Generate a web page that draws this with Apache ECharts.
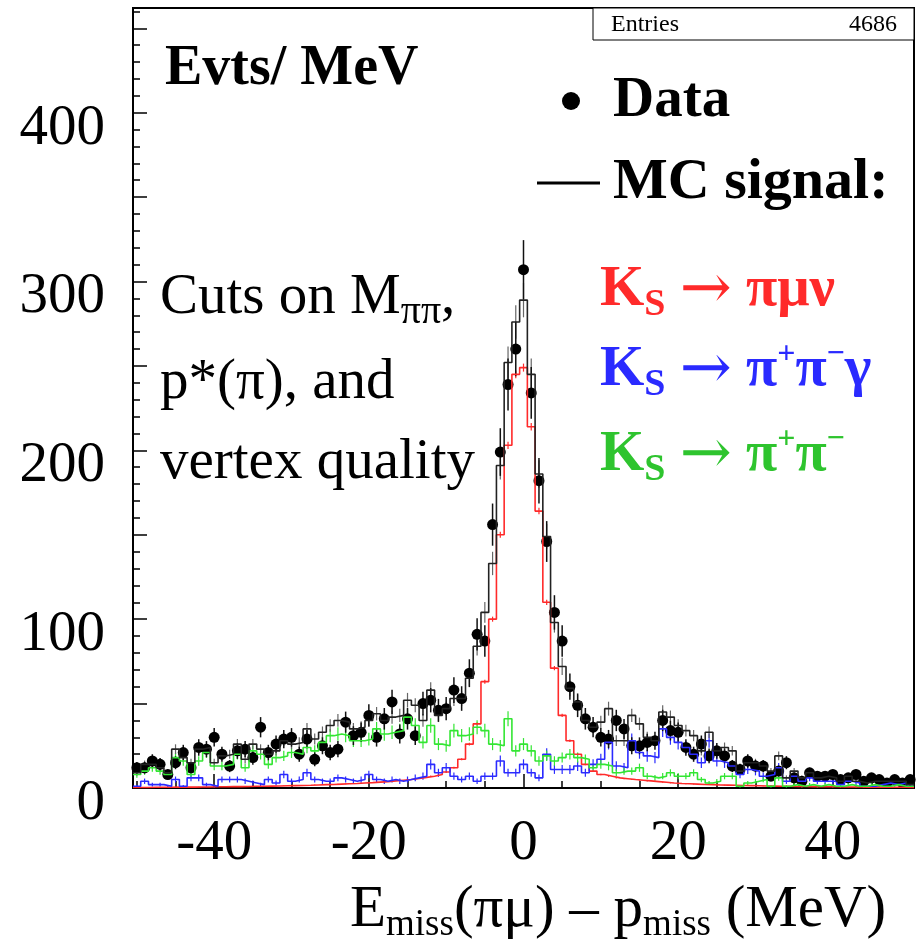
<!DOCTYPE html>
<html>
<head>
<meta charset="utf-8">
<title>Emiss - pmiss</title>
<script src="https://cdn.jsdelivr.net/npm/echarts@6.0.0/dist/echarts.min.js"></script>
<style>
  html, body { margin: 0; padding: 0; background: #fff; }
  #chart { width: 916px; height: 945px; }
</style>
</head>
<body>
<div id="chart"></div>
<script>
// 1 MeV bins, centred on integers
const binCentres = [
  -50, -49, -48, -47, -46, -45, -44, -43, -42, -41,
  -40, -39, -38, -37, -36, -35, -34, -33, -32, -31,
  -30, -29, -28, -27, -26, -25, -24, -23, -22, -21,
  -20, -19, -18, -17, -16, -15, -14, -13, -12, -11,
  -10, -9, -8, -7, -6, -5, -4, -3, -2, -1,
  0,
  1, 2, 3, 4, 5, 6, 7, 8, 9, 10,
  11, 12, 13, 14, 15, 16, 17, 18, 19, 20,
  21, 22, 23, 24, 25, 26, 27, 28, 29, 30,
  31, 32, 33, 34, 35, 36, 37, 38, 39, 40,
  41, 42, 43, 44, 45, 46, 47, 48, 49, 50
];

// tick labels
const xLabels = [-40, -20, 0, 20, 40];
const xMinorTicks = [-50, -45, -40, -35, -30, -25, -20, -15, -10, -5, 0, 5, 10, 15, 20, 25, 30, 35, 40, 45, 50];
const yLabels = [0, 100, 200, 300, 400];
const yMajorTicks = [0, 50, 100, 150, 200, 250, 300, 350, 400, 450];
const yMinorTicks = [0, 10, 20, 30, 40, 50, 60, 70, 80, 90, 100, 110, 120, 130, 140, 150, 160, 170, 180, 190,
  200, 210, 220, 230, 240, 250, 260, 270, 280, 290, 300, 310, 320, 330, 340, 350, 360, 370, 380, 390,
  400, 410, 420, 430, 440, 450, 460];

// data, events per MeV
const dataCounts = [
  12, 12, 16, 14, 8, 15, 21, 12, 24, 23,
  30, 20, 13, 22, 23, 18, 36, 21, 26, 29,
  30, 20, 29, 17, 25, 21, 23, 39, 31, 33,
  43, 30, 41, 51, 32, 41, 31, 50, 52, 46,
  47, 58, 53, 68, 91, 87, 156, 199, 239, 260,
  307,
  234, 182, 146, 104, 87, 60, 49, 41, 36, 30,
  29, 40, 35, 25, 25, 27, 28, 40, 34, 33,
  24, 20, 26, 19, 22, 19, 13, 11, 16, 13,
  13, 7, 10, 15, 6, 4, 9, 7, 7, 8,
  5, 6, 8, 4, 6, 5, 3, 5, 3, 5
];

// MC signal total (black)
const mcTotal = [
  9, 14, 14, 12, 9, 23, 18, 15, 23, 24,
  15, 19, 20, 26, 17, 26, 23, 20, 22, 28,
  26, 27, 35, 29, 33, 37, 40, 39, 35, 36,
  40, 44, 40, 42, 43, 52, 49, 40, 58, 43,
  47, 53, 53, 65, 84, 104, 133, 191, 252, 276,
  289,
  245, 186, 149, 98, 72, 59, 51, 40, 36, 39,
  47, 28, 28, 43, 38, 30, 28, 45, 42, 37,
  34, 31, 22, 33, 22, 24, 22, 10, 15, 15,
  13, 10, 19, 6, 10, 6, 9, 6, 7, 6,
  4, 7, 4, 3, 4, 4, 4, 4, 4, 2
];

// Ks -> pi mu nu (red)
const mcPiMuNu = [
  0.3, 0.3, 0.4, 0.4, 0.4, 0.5, 0.5, 0.5, 0.6, 0.6,
  0.7, 0.7, 0.8, 0.8, 0.9, 1.0, 1.0, 1.1, 1.2, 1.3,
  1.4, 1.5, 1.6, 1.8, 2.0, 2.1, 2.3, 2.5, 2.7, 3.0,
  3.2, 3.5, 3.8, 4.2, 4.6, 5.0, 5.6, 6.3, 7.0, 8.0,
  9.5, 12, 17, 26, 38, 63, 100, 150, 203, 245,
  249,
  214, 164, 110, 71, 43, 28, 20, 14, 10, 8,
  7, 6, 5.5, 5, 4.6, 4.2, 3.8, 3.4, 3.0, 2.7,
  2.5, 2.3, 2.1, 2.0, 1.8, 1.7, 1.6, 1.5, 1.4, 1.3,
  1.2, 1.1, 1.0, 1.0, 0.9, 0.9, 0.8, 0.8, 0.7, 0.7,
  0.6, 0.6, 0.6, 0.5, 0.5, 0.5, 0.4, 0.4, 0.4, 0.3
];

// Ks -> pi+ pi- gamma (blue)
const mcPiPiGamma = [
  1, 4, 2, 2, 1, 5, 1, 6, 6, 2,
  1, 5, 5, 5, 4, 3, 2, 5, 3, 8,
  4, 5, 9, 5, 4, 4, 6, 5, 4, 5,
  8, 5, 4, 5, 4, 5, 6, 7, 14, 9,
  12, 7, 5, 7, 4, 7, 7, 16, 9, 9,
  14,
  9, 6, 20, 11, 11, 11, 13, 9, 14, 17,
  27, 13, 12, 28, 21, 19, 18, 35, 30, 27,
  24, 20, 15, 28, 16, 15, 13, 8, 11, 10,
  7, 8, 12, 4, 7, 4, 6, 4, 4, 4,
  2, 4, 3, 1, 1, 2, 3, 2, 3, 1
];

// Ks -> pi+ pi- (green)
const mcPiPi = [
  8, 10, 12, 10, 8, 18, 16, 8, 16, 21,
  13, 13, 14, 20, 12, 22, 20, 14, 18, 19,
  21, 20, 24, 22, 27, 31, 32, 31, 28, 28,
  29, 35, 32, 33, 34, 42, 37, 27, 37, 26,
  25, 34, 31, 32, 36, 34, 26, 25, 41, 22,
  26,
  22, 16, 19, 16, 18, 20, 18, 17, 12, 14,
  13, 9, 10, 10, 12, 7, 6, 7, 9, 7,
  7, 9, 5, 3, 4, 7, 7, 1, 3, 4,
  5, 1, 6, 1, 2, 1, 2, 1, 2, 1,
  1, 2, 1, 1, 2, 1, 1, 2, 1, 1
];

const SERIF = '"Liberation Serif", "DejaVu Serif", serif';
const ARROW_FONT = '"DejaVu Serif", serif';
const RED = '#ff2a2a', BLUE = '#2a2aff', GREEN = '#33e633';

// histogram outline: each bin drawn across its full width
const stepPoints = vals => {
  const pts = [];
  binCentres.forEach((c, i) => { pts.push([c - 0.5, vals[i]], [c + 0.5, vals[i]]); });
  return pts;
};

const errPoints = (vals, scale) =>
  binCentres.map((c, i) => [c, vals[i] - scale * Math.sqrt(vals[i]), vals[i] + scale * Math.sqrt(vals[i])]);

const errSeries = (vals, scale, color, width) => ({
  type: 'custom',
  clip: true,
  silent: true,
  data: errPoints(vals, scale),
  renderItem: (params, api) => {
    const a = api.coord([api.value(0), api.value(1)]);
    const b = api.coord([api.value(0), api.value(2)]);
    return { type: 'line', shape: { x1: a[0], y1: a[1], x2: b[0], y2: b[1] },
      style: { stroke: color, lineWidth: width } };
  }
});

const histSeries = (vals, color, width) => ({
  type: 'line',
  data: stepPoints(vals),
  symbol: 'none',
  silent: true,
  lineStyle: { color: color, width: width },
  clip: true
});

// text built from pieces: [text, size, dy, weight, family]
const measure = document.createElement('canvas').getContext('2d');
function textRun(x, y, parts, color) {
  const out = [];
  let cx = x;
  for (const [t, size, dy, weight, family] of parts) {
    const font = weight + ' ' + size + 'px ' + (family || SERIF);
    measure.font = font;
    out.push({ type: 'text', x: cx, y: y + dy, silent: true,
      style: { text: t, font: font, fill: color, textAlign: 'left', textVerticalAlign: 'middle' } });
    cx += measure.measureText(t).width;
  }
  return out;
}

const arrow = [[' ', 57, 0, 'bold'], ['\u2192', 62, 2, 'normal', ARROW_FONT], [' ', 57, 0, 'bold']];

const graphics = [
  // stats box
  { type: 'rect', shape: { x: 593, y: 8, width: 321, height: 32 }, style: { fill: '#fff', stroke: '#000', lineWidth: 1 } },
  { type: 'text', x: 611, y: 25, style: { text: 'Entries', font: '24px ' + SERIF, fill: '#000', textVerticalAlign: 'middle' } },
  { type: 'text', x: 897, y: 25, style: { text: '4686', font: '24px ' + SERIF, fill: '#000', textAlign: 'right', textVerticalAlign: 'middle' } },
  // legend markers
  { type: 'circle', shape: { cx: 571, cy: 101, r: 9 }, style: { fill: '#000' } },
  { type: 'line', shape: { x1: 537, y1: 183, x2: 600, y2: 183 }, style: { stroke: '#000', lineWidth: 3 } },
  ...textRun(165, 70, [['Evts/ MeV', 56, 0, 'bold']], '#000'),
  ...textRun(613, 101, [['Data', 57, 0, 'bold']], '#000'),
  ...textRun(613, 183, [['MC signal:', 58, 0, 'bold']], '#000'),
  ...textRun(600, 290, [['K', 57, 0, 'bold'], ['S', 38, 15, 'bold'], ...arrow, ['\u03c0\u03bc\u03bd', 57, 0, 'bold']], RED),
  ...textRun(600, 370, [['K', 57, 0, 'bold'], ['S', 38, 15, 'bold'], ...arrow, ['\u03c0', 57, 0, 'bold'], ['+', 32, -15, 'bold'],
    ['\u03c0', 57, 0, 'bold'], ['\u2212', 32, -15, 'bold'], ['\u03b3', 57, 0, 'bold']], BLUE),
  ...textRun(600, 455, [['K', 57, 0, 'bold'], ['S', 38, 15, 'bold'], ...arrow, ['\u03c0', 57, 0, 'bold'], ['+', 32, -15, 'bold'],
    ['\u03c0', 57, 0, 'bold'], ['\u2212', 32, -15, 'bold']], '#2ec42e'),
  ...textRun(160, 298, [['Cuts on M', 57, 0, 'normal'], ['\u03c0\u03c0', 40, 14, 'normal'], [',', 57, 0, 'normal']], '#000'),
  ...textRun(160, 383, [['p*(\u03c0), and', 57, 0, 'normal']], '#000'),
  ...textRun(160, 463, [['vertex quality', 57, 0, 'normal']], '#000'),
  ...textRun(350, 910, [['E', 59, 0, 'normal'], ['miss', 37, 15, 'normal'], ['(\u03c0\u03bc) \u2013 p', 59, 0, 'normal'],
    ['miss', 37, 15, 'normal'], [' (MeV)', 59, 0, 'normal']], '#000')
];

const chart = echarts.init(document.getElementById('chart'));
chart.setOption({
  animation: false,
  backgroundColor: '#fff',
  grid: { left: 133, top: 8, width: 781, height: 780, show: true, borderColor: '#000', borderWidth: 2, backgroundColor: 'transparent' },
  xAxis: [
    {
      type: 'value', min: -50.5, max: 50.5, position: 'bottom',
      axisLine: { show: false, onZero: false },
      splitLine: { show: false },
      axisTick: { inside: true, length: 14, customValues: xLabels, lineStyle: { color: '#000', width: 1.5 } },
      axisLabel: { customValues: xLabels, fontSize: 57, fontFamily: SERIF, color: '#000', margin: 28 }
    },
    {
      type: 'value', min: -50.5, max: 50.5, position: 'bottom',
      axisLine: { show: false, onZero: false }, splitLine: { show: false }, axisLabel: { show: false },
      axisTick: { inside: true, length: 7, customValues: xMinorTicks, lineStyle: { color: '#000', width: 1.5 } }
    }
  ],
  yAxis: [
    {
      type: 'value', min: 0, max: 462, position: 'left',
      axisLine: { show: false, onZero: false },
      splitLine: { show: false },
      axisTick: { inside: true, length: 14, customValues: yMajorTicks, lineStyle: { color: '#000', width: 1.5 } },
      axisLabel: {
        customValues: yLabels, margin: 28,
        formatter: v => '{n|' + v + '}',
        rich: { n: { fontSize: 57, fontFamily: SERIF, color: '#000', padding: [32, 0, 0, 0] } }
      }
    },
    {
      type: 'value', min: 0, max: 462, position: 'left',
      axisLine: { show: false, onZero: false }, splitLine: { show: false }, axisLabel: { show: false },
      axisTick: { inside: true, length: 7, customValues: yMinorTicks, lineStyle: { color: '#000', width: 1.5 } }
    }
  ],
  series: [
    histSeries(mcPiMuNu, RED, 1.6),
    errSeries(mcPiMuNu, 0.15, RED, 1.2),
    histSeries(mcPiPiGamma, BLUE, 1.6),
    errSeries(mcPiPiGamma, 0.8, BLUE, 1.2),
    histSeries(mcPiPi, GREEN, 1.6),
    errSeries(mcPiPi, 0.7, GREEN, 1.2),
    histSeries(mcTotal, '#222', 1.6),
    errSeries(mcTotal, 0.6, '#666', 1.2),
    errSeries(dataCounts, 1, '#111', 1.5),
    {
      type: 'scatter',
      silent: true,
      data: binCentres.map((c, i) => [c, dataCounts[i]]),
      symbol: 'circle',
      symbolSize: 11,
      itemStyle: { color: '#000', opacity: 1 },
      clip: true
    }
  ],
  graphic: graphics
});
</script>
</body>
</html>
